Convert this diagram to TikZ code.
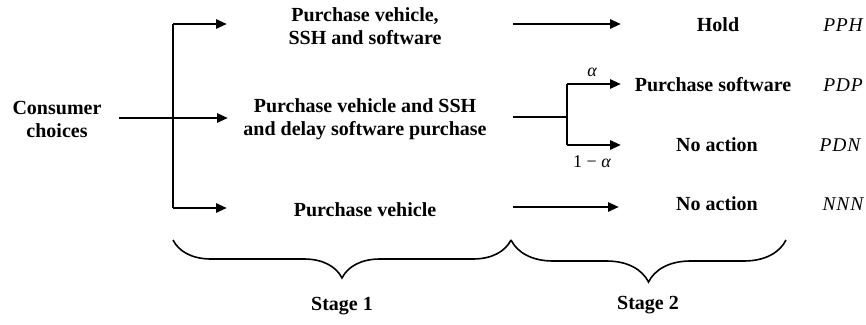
\documentclass[tikz,border=0pt]{standalone}
\usepackage{fontspec}
\setmainfont{Liberation Serif}
\newfontfamily\codefont[LetterSpace=4]{Liberation Serif}
\usetikzlibrary{arrows.meta,decorations.pathreplacing}
\begin{document}
\begin{tikzpicture}[x=1pt,y=-1pt,
  lbl/.style={font=\bfseries\fontsize{20}{23}\selectfont, align=center, inner sep=0pt},
  code/.style={font=\codefont\itshape\fontsize{19.5}{22}\selectfont, inner sep=0pt},
  prob/.style={font=\fontsize{18}{20}\selectfont, inner sep=0pt},
  conn/.style={line width=2.9pt},
  arr/.style={line width=2.9pt, -{Triangle[length=11pt,width=9pt]}},
  brc/.style={line width=1.6pt, decorate, decoration={brace, mirror, amplitude=#1}}]
\useasboundingbox (0,0) rectangle (866,324);
% nodes
\node[lbl] (cc) at (57,119) {Consumer\\choices};
\node[lbl] (s1a) at (365,26) {Purchase vehicle,\\SSH and software};
\node[lbl] (s1b) at (365,119) {Purchase vehicle and SSH\\and delay software purchase};
\node[lbl] (s1c) at (365,210) {Purchase vehicle};
\node[lbl] (hold) at (718,25) {Hold};
\node[lbl] (psw) at (713,85) {Purchase software};
\node[lbl] (na1) at (717,145) {No action};
\node[lbl] (na2) at (717,204) {No action};
\node[code] (c1) at (843,25) {PPH};
\node[code] (c2) at (843,85) {PDP};
\node[code] (c3) at (840,145) {PDN};
\node[code] (c4) at (843,204) {NNN};
\node[prob] (pa) at (592,72) {\itshape α};
\node[prob] (pb) at (592,162) {1 − \itshape α};
\node[lbl] (st1) at (342,306) {Stage 1};
\node[lbl] (st2) at (648,305) {Stage 2};
% coordinates
\coordinate (a0) at (119,118);
\coordinate (j) at (173,118);
\coordinate (jt) at (173,24);
\coordinate (jb) at (173,208);
\coordinate (et) at (227,24);
\coordinate (em) at (228,118);
\coordinate (eb) at (227,208);
\coordinate (h0) at (513,24);
\coordinate (h1) at (621,24);
\coordinate (m0) at (513,117);
\coordinate (k) at (567,117);
\coordinate (kt) at (567,84);
\coordinate (kb) at (567,145);
\coordinate (kte) at (621,84);
\coordinate (kbe) at (621,145);
\coordinate (b0) at (513,207);
\coordinate (b1) at (619,207);
\coordinate (br1a) at (173,240);
\coordinate (br1b) at (511,240);
\coordinate (br2a) at (511,240);
\coordinate (br2b) at (786,240);
% connectors
\draw[conn] (a0) -- (j);
\draw[conn] (jt) -- (jb);
\draw[arr] (jt) -- (et);
\draw[arr] (j) -- (em);
\draw[arr] (jb) -- (eb);
\draw[arr] (h0) -- (h1);
\draw[conn] (m0) -- (k);
\draw[conn] (kt) -- (kb);
\draw[arr] (kt) -- (kte);
\draw[arr] (kb) -- (kbe);
\draw[arr] (b0) -- (b1);
% braces
\draw[brc=38pt] (br1a) -- (br1b);
\draw[brc=42pt] (br2a) -- (br2b);
\end{tikzpicture}
\end{document}
